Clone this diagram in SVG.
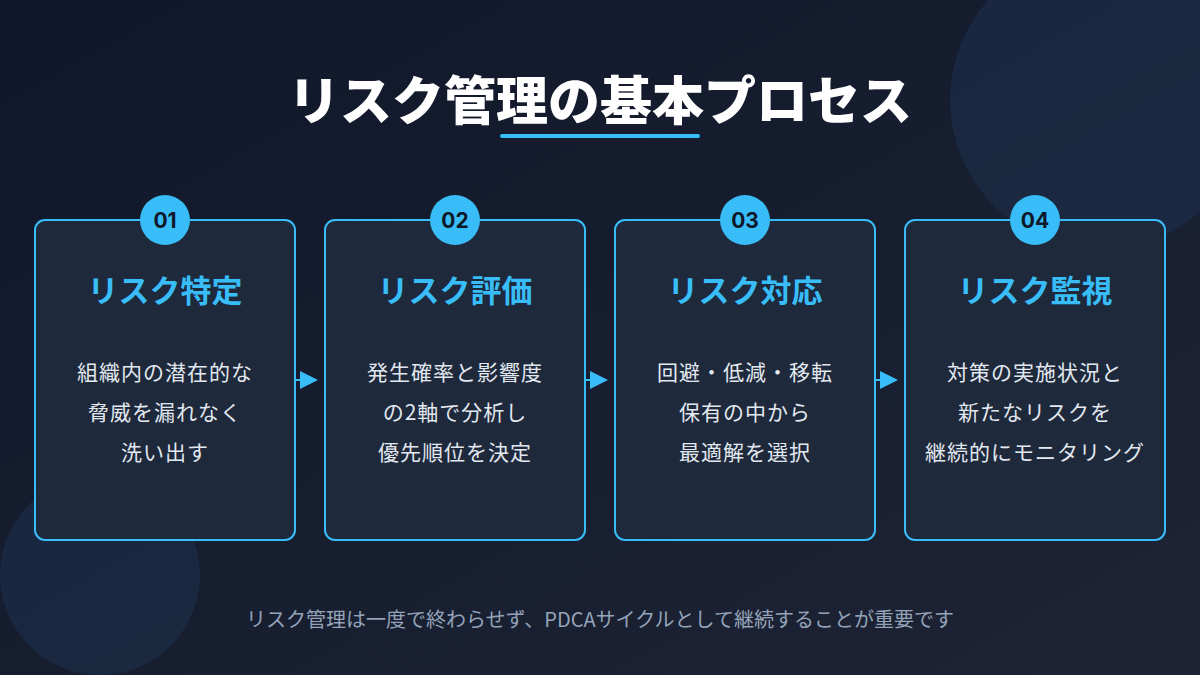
<svg xmlns="http://www.w3.org/2000/svg" width="1200" height="675" viewBox="0 0 1200 675">
<defs>
<linearGradient id="bg" x1="0" y1="0" x2="1" y2="1">
<stop offset="0" stop-color="#0f172a"/>
<stop offset="1" stop-color="#1e2435"/>
</linearGradient>
<marker id="ah" viewBox="0 0 10 10" refX="0" refY="5" markerWidth="18" markerHeight="18" markerUnits="userSpaceOnUse" orient="auto">
<path d="M0,0 L10,5 L0,10 Z" fill="#38bdf8"/>
</marker>
<style>
.box{fill:#1e293b;stroke:#38bdf8;stroke-width:2}
.badge{fill:#38bdf8}
.num{font-family:"Inter","Noto Sans",sans-serif;font-weight:700;font-size:21px;fill:#0f172a;text-anchor:middle}
.head{font-family:"Noto Sans CJK JP",sans-serif;font-weight:700;font-size:31px;fill:#38bdf8;text-anchor:middle}
.body{font-family:"Noto Sans CJK JP",sans-serif;font-size:21px;fill:#e2e8f0;text-anchor:middle;letter-spacing:1px}
.conn{stroke:#38bdf8;stroke-width:2;fill:none}
</style>
</defs>
<rect width="1200" height="675" fill="url(#bg)"/>
<circle cx="1100" cy="100" r="150" fill="#1c2e4a" opacity="0.65"/>
<circle cx="100" cy="575" r="100" fill="#1c2e4a" opacity="0.65"/>
<g id="title">
<text x="600" y="120" font-family="'Noto Sans CJK JP',sans-serif" font-weight="900" font-size="52" fill="#ffffff" text-anchor="middle">リスク管理の基本プロセス</text>
<rect x="500" y="134" width="200" height="4" rx="2" fill="#38bdf8"/>
</g>
<g id="connectors">
<line class="conn" x1="295" y1="380" x2="300" y2="380" marker-end="url(#ah)"/>
<line class="conn" x1="585" y1="380" x2="590" y2="380" marker-end="url(#ah)"/>
<line class="conn" x1="875" y1="380" x2="880" y2="380" marker-end="url(#ah)"/>
</g>
<g id="step1">
<rect class="box" x="35" y="220" width="260" height="320" rx="10"/>
<circle class="badge" cx="165" cy="220" r="25"/>
<text class="num" x="165" y="228">01</text>
<text class="head" x="165" y="302">リスク特定</text>
<text class="body" x="165" y="380">組織内の潜在的な</text>
<text class="body" x="165" y="420">脅威を漏れなく</text>
<text class="body" x="165" y="460">洗い出す</text>
</g>
<g id="step2">
<rect class="box" x="325" y="220" width="260" height="320" rx="10"/>
<circle class="badge" cx="455" cy="220" r="25"/>
<text class="num" x="455" y="228">02</text>
<text class="head" x="455" y="302">リスク評価</text>
<text class="body" x="455" y="380">発生確率と影響度</text>
<text class="body" x="455" y="420">の2軸で分析し</text>
<text class="body" x="455" y="460">優先順位を決定</text>
</g>
<g id="step3">
<rect class="box" x="615" y="220" width="260" height="320" rx="10"/>
<circle class="badge" cx="745" cy="220" r="25"/>
<text class="num" x="745" y="228">03</text>
<text class="head" x="745" y="302">リスク対応</text>
<text class="body" x="745" y="380">回避・低減・移転</text>
<text class="body" x="745" y="420">保有の中から</text>
<text class="body" x="745" y="460">最適解を選択</text>
</g>
<g id="step4">
<rect class="box" x="905" y="220" width="260" height="320" rx="10"/>
<circle class="badge" cx="1035" cy="220" r="25"/>
<text class="num" x="1035" y="228">04</text>
<text class="head" x="1035" y="302">リスク監視</text>
<text class="body" x="1035" y="380">対策の実施状況と</text>
<text class="body" x="1035" y="420">新たなリスクを</text>
<text class="body" x="1035" y="460">継続的にモニタリング</text>
</g>
<g id="footer">
<text x="600" y="627" font-family="'Noto Sans CJK JP',sans-serif" font-size="20" fill="#94a3b8" text-anchor="middle">リスク管理は一度で終わらせず、PDCAサイクルとして継続することが重要です</text>
</g>
</svg>
